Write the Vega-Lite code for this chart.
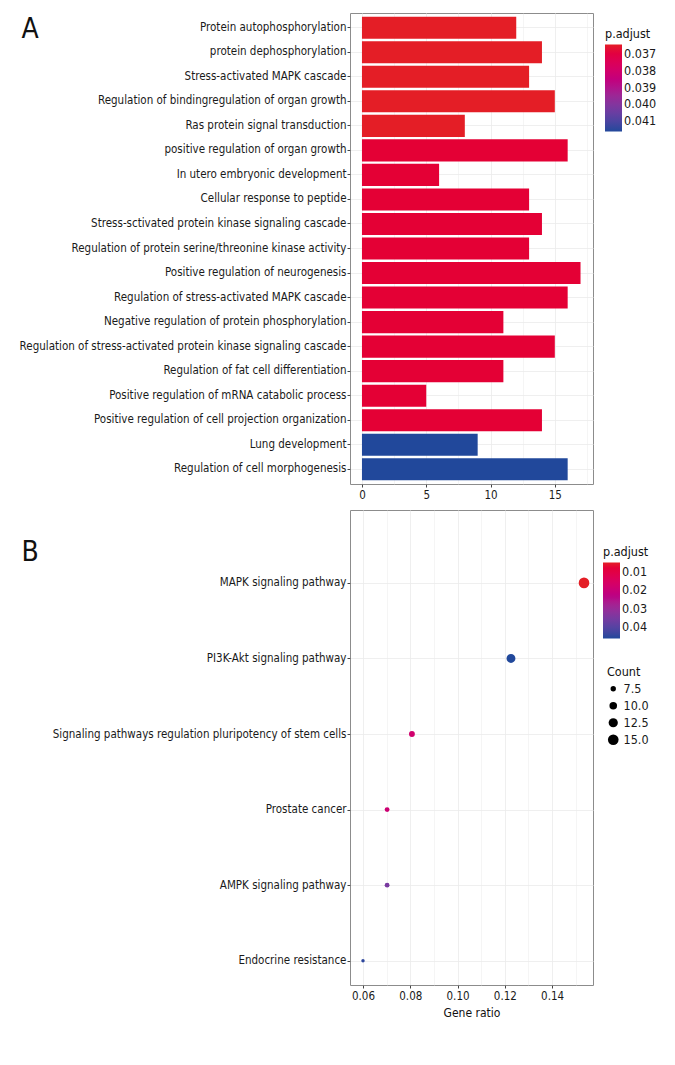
{
  "$schema": "https://vega.github.io/schema/vega-lite/v6.json",
  "padding": {"left": 18, "top": 12, "right": 5, "bottom": 5},
  "spacing": 26,
  "bounds": "flush",
  "resolve": {
    "scale": {"color": "independent", "size": "independent"},
    "legend": {"color": "independent", "size": "independent"}
  },
  "config": {
    "font": "DejaVu Sans Condensed",
    "view": {"stroke": "#8c8c8c", "strokeWidth": 1},
    "axis": {
      "labelFont": "DejaVu Sans Condensed",
      "titleFont": "DejaVu Sans Condensed",
      "labelColor": "#1a1a1a",
      "titleColor": "#111111",
      "titleFontWeight": "normal",
      "domain": false,
      "tickColor": "#444444",
      "tickSize": 3,
      "labelPadding": 2,
      "gridColor": "#ebebeb",
      "gridWidth": 0.8
    },
    "legend": {
      "titleFont": "DejaVu Sans Condensed",
      "labelFont": "DejaVu Sans Condensed",
      "titleFontWeight": "normal",
      "titleFontSize": 12.5,
      "labelFontSize": 12.5,
      "titleColor": "#111111",
      "labelColor": "#1a1a1a",
      "labelOffset": 4,
      "titlePadding": 4
    }
  },
  "vconcat": [
    {
      "width": 243,
      "height": 471,
      "data": {
        "values": [
          {"term": "Protein autophosphorylation", "count": 12, "padj": 0.03645},
          {"term": "protein dephosphorylation", "count": 14, "padj": 0.03645},
          {"term": "Stress-activated MAPK cascade", "count": 13, "padj": 0.03645},
          {"term": "Regulation of bindingregulation of organ growth", "count": 15, "padj": 0.03645},
          {"term": "Ras protein signal transduction", "count": 8, "padj": 0.03645},
          {"term": "positive regulation of organ growth", "count": 16, "padj": 0.03675},
          {"term": "In utero embryonic development", "count": 6, "padj": 0.03675},
          {"term": "Cellular response to peptide", "count": 13, "padj": 0.03675},
          {"term": "Stress-sctivated protein kinase signaling cascade", "count": 14, "padj": 0.03675},
          {"term": "Regulation of protein serine/threonine kinase activity", "count": 13, "padj": 0.03675},
          {"term": "Positive regulation of neurogenesis", "count": 17, "padj": 0.03675},
          {"term": "Regulation of stress-activated MAPK cascade", "count": 16, "padj": 0.03675},
          {"term": "Negative regulation of protein phosphorylation", "count": 11, "padj": 0.03675},
          {"term": "Regulation of stress-activated protein kinase signaling cascade", "count": 15, "padj": 0.03675},
          {"term": "Regulation of fat cell differentiation", "count": 11, "padj": 0.03675},
          {"term": "Positive regulation of mRNA catabolic process", "count": 5, "padj": 0.03675},
          {"term": "Positive regulation of cell projection organization", "count": 14, "padj": 0.03675},
          {"term": "Lung development", "count": 9, "padj": 0.0416},
          {"term": "Regulation of cell morphogenesis", "count": 16, "padj": 0.0416}
        ]
      },
      "mark": {"type": "bar"},
      "encoding": {
        "y": {
          "field": "term",
          "type": "nominal",
          "sort": null,
          "scale": {"paddingInner": 0.1, "paddingOuter": 0.15},
          "axis": {
            "title": "A",
            "titleAngle": 0,
            "titleX": -329,
            "titleY": 24,
            "titleAlign": "left",
            "titleBaseline": "alphabetic",
            "titleFontSize": 28,
            "labelFontSize": 11.5,
            "labelPadding": 1,
            "labelLimit": 500,
            "grid": true
          }
        },
        "x": {
          "field": "count",
          "type": "quantitative",
          "scale": {"domain": [-0.93, 17.97], "nice": false, "zero": false},
          "axis": {
            "title": null,
            "values": [0, 2.5, 5, 7.5, 10, 12.5, 15, 17.5],
            "labelExpr": "datum.value % 5 == 0 ? datum.label : ''",
            "labelFontSize": 11.5,
            "tickColor": {"condition": {"test": "datum.value % 5 != 0", "value": "transparent"}, "value": "#444444"},
            "gridWidth": {"condition": {"test": "datum.value % 5 != 0", "value": 0.5}, "value": 0.8}
          }
        },
        "color": {
          "field": "padj",
          "type": "quantitative",
          "scale": {
            "domainRaw": {"expr": "[0.0416, 0.03645]"},
            "range": ["#21489b", "#e41e26"],
            "interpolate": "hcl",
            "nice": false,
            "zero": false
          },
          "legend": {
            "title": "p.adjust",
            "orient": "none",
            "legendX": 255,
            "legendY": 15,
            "values": [0.037, 0.038, 0.039, 0.04, 0.041],
            "format": ".3f",
            "gradientLength": 87,
            "gradientThickness": 17,
            "direction": "vertical"
          }
        }
      }
    },
    {
      "width": 243,
      "height": 475,
      "data": {
        "values": [
          {"pathway": "MAPK signaling pathway", "ratio": 0.1535, "count": 15, "padj": 0.005},
          {"pathway": "PI3K-Akt signaling pathway", "ratio": 0.1226, "count": 12, "padj": 0.0461},
          {"pathway": "Signaling pathways regulation pluripotency of stem cells", "ratio": 0.0807, "count": 8, "padj": 0.018},
          {"pathway": "Prostate cancer", "ratio": 0.0702, "count": 7, "padj": 0.019},
          {"pathway": "AMPK signaling pathway", "ratio": 0.0702, "count": 7, "padj": 0.035},
          {"pathway": "Endocrine resistance", "ratio": 0.0600, "count": 6, "padj": 0.045}
        ]
      },
      "mark": {"type": "circle", "opacity": 1},
      "encoding": {
        "y": {
          "field": "pathway",
          "type": "nominal",
          "sort": null,
          "scale": {"type": "point", "padding": 0.643, "align": 0.75},
          "axis": {
            "title": "B",
            "titleAngle": 0,
            "titleX": -329,
            "titleY": 50,
            "titleAlign": "left",
            "titleBaseline": "alphabetic",
            "titleFontSize": 28,
            "labelFontSize": 11.5,
            "labelPadding": 1,
            "labelLimit": 500,
            "grid": true
          }
        },
        "x": {
          "field": "ratio",
          "type": "quantitative",
          "scale": {"domain": [0.0545, 0.1573], "nice": false, "zero": false},
          "axis": {
            "title": "Gene ratio",
            "titleFontSize": 12,
            "titlePadding": 6,
            "values": [0.06, 0.07, 0.08, 0.09, 0.10, 0.11, 0.12, 0.13, 0.14, 0.15],
            "labelExpr": "round(datum.value * 100) % 2 == 0 ? format(datum.value, '.2f') : ''",
            "labelFontSize": 11.5,
            "tickColor": {"condition": {"test": "round(datum.value * 100) % 2 != 0", "value": "transparent"}, "value": "#444444"},
            "gridWidth": {"condition": {"test": "round(datum.value * 100) % 2 != 0", "value": 0.5}, "value": 0.8}
          }
        },
        "color": {
          "field": "padj",
          "type": "quantitative",
          "scale": {
            "domainRaw": {"expr": "[0.0461, 0.005]"},
            "range": ["#21489b", "#e41e26"],
            "interpolate": "hcl",
            "nice": false,
            "zero": false
          },
          "legend": {
            "title": "p.adjust",
            "orient": "none",
            "legendX": 253,
            "legendY": 36,
            "values": [0.01, 0.02, 0.03, 0.04],
            "format": ".2f",
            "gradientLength": 76,
            "gradientThickness": 17,
            "direction": "vertical"
          }
        },
        "size": {
          "field": "count",
          "type": "quantitative",
          "scale": {"domain": [6, 15], "range": [12, 113], "zero": false, "nice": false},
          "legend": {
            "title": "Count",
            "orient": "none",
            "legendX": 257,
            "legendY": 156,
            "values": [7.5, 10, 12.5, 15],
            "format": ".1f",
            "symbolFillColor": "black",
            "symbolStrokeWidth": 0,
            "rowPadding": 4
          }
        }
      }
    }
  ]
}
